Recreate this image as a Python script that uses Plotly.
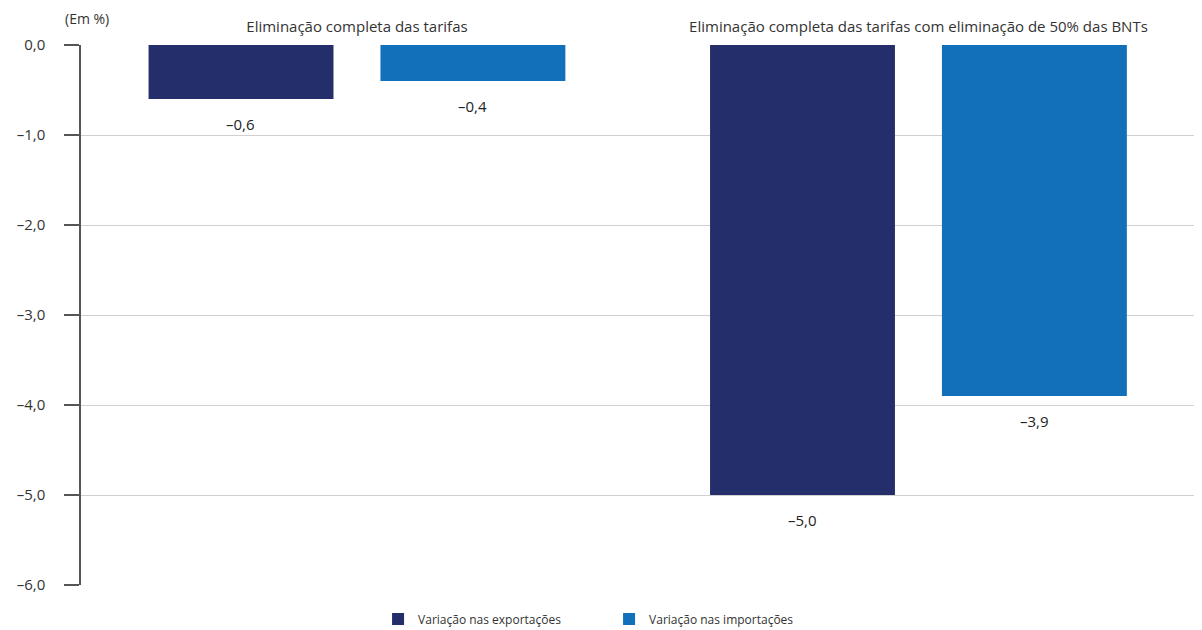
import plotly.graph_objects as go

categories = ["Eliminação completa das tarifas",
              "Eliminação completa das tarifas com eliminação de 50% das BNTs"]
series_names = ["Variação nas exportações", "Variação nas importações"]
exports = [-0.6, -5.0]
imports = [-0.4, -3.9]
tick_vals = [0, -1, -2, -3, -4, -5, -6]
tick_text = ["0,0", "–1,0", "–2,0", "–3,0", "–4,0", "–5,0", "–6,0"]
colors = ["#242e6a", "#1170b9"]

FONT = "Open Sans"

fig = go.Figure()
for name, vals, col in zip(series_names, [exports, imports], colors):
    fig.add_trace(go.Bar(x=categories, y=vals, name=name, marker=dict(color=col, line=dict(width=0))))

def fmt(v):
    s = f"{abs(v):.1f}".replace(".", ",")
    return ("–" + s) if v < 0 else s

for shift, vals in zip([-116, 116], [exports, imports]):
    for c, v in zip(categories, vals):
        fig.add_annotation(x=c, y=v, text=fmt(v), showarrow=False, xshift=shift,
                           yanchor="top", yshift=-13,
                           font=dict(family=FONT, size=15, color="#222222"))

fig.add_annotation(xref="paper", yref="paper", x=-0.016, y=1, xanchor="left", yanchor="bottom",
                   yshift=15, text="(Em %)", showarrow=False,
                   font=dict(family=FONT, size=14, color="#333333"))

# page has an 8px body margin: compensate so plot sits where the reference has it
fig.update_layout(
    width=1194, height=622,
    margin=dict(l=73, r=0, t=37, b=45, autoexpand=False),
    paper_bgcolor="white", plot_bgcolor="white",
    barmode="group", bargap=0.174, bargroupgap=0.2026,
    font=dict(family=FONT, color="#333333"),
    showlegend=True,
    legend=dict(orientation="h", x=0.265, xanchor="left", y=-0.036, yanchor="top",
                font=dict(family=FONT, size=12, color="#333333"),
                entrywidth=186, entrywidthmode="pixels", itemclick=False),
    xaxis=dict(side="top", showline=False, ticks="", showgrid=False, automargin=False,
               range=[-0.4915, 1.505],
               tickfont=dict(family=FONT, size=15, color="#333333"), ticklabelstandoff=9),
    yaxis=dict(range=[-6, 0], tickvals=tick_vals, ticktext=tick_text, automargin=False,
               showline=True, linecolor="#555555", linewidth=1.5,
               ticks="outside", ticklen=15, tickcolor="#555555", tickwidth=1.5,
               showgrid=True, gridcolor="#d0d0d0", gridwidth=1,
               zeroline=False, ticklabelstandoff=16,
               tickfont=dict(family=FONT, size=15, color="#333333")),
)

fig.write_html("out.html")
